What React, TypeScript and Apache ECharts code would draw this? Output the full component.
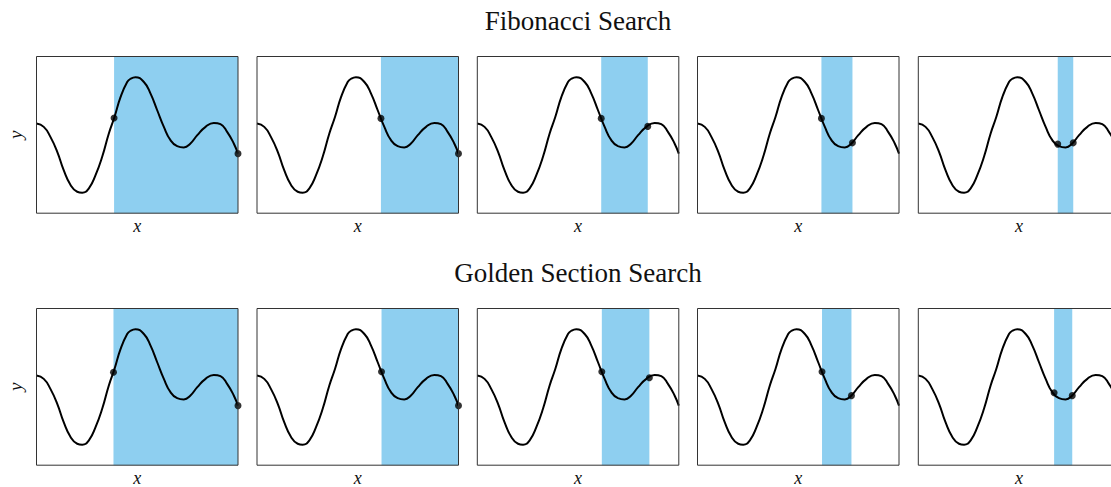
import React, { useEffect, useRef } from "react";
import * as echarts from "echarts";

// Curve (same function in every panel), normalised x 0..100, y 0..100
const curveX = [0, 3.6, 6.9, 10.3, 13.5, 16.9, 20.2, 22.7, 26.0, 29.3, 32.6, 35.9, 38.7, 41.7, 45.0, 46.7, 49.1, 53.3, 56.6, 59.9, 63.2, 66.5, 69.8, 73.1, 76.4, 79.8, 83.9, 88.0, 91.3, 94.6, 97.9, 100];
const curveY = [57.2, 55.1, 48.7, 39.2, 27.5, 18.0, 13.7, 13.1, 15.9, 24.3, 36.0, 50.9, 61.4, 74.1, 83.7, 85.8, 86.8, 83.7, 76.3, 65.7, 55.1, 46.6, 42.8, 42.0, 44.5, 49.8, 55.1, 57.6, 56.8, 51.9, 44.5, 38.0];

// Fibonacci search brackets and evaluated points
const fibLo = [38.5, 61.5, 61.5, 61.5, 69.2];
const fibHi = [100, 100, 84.6, 76.9, 76.9];
const fibLoY = [60.8, 60.5, 60.5, 60.5, 44.1];
const fibHiY = [38.0, 38.0, 55.4, 44.9, 44.9];

// Golden section search brackets and evaluated points
const goldLo = [38.2, 61.8, 61.8, 61.8, 67.4];
const goldHi = [100, 100, 85.4, 76.4, 76.4];
const goldLoY = [59.3, 59.6, 59.6, 59.6, 46.2];
const goldHiY = [38.0, 38.0, 55.8, 44.4, 44.4];

const rowTitles = ["Fibonacci Search", "Golden Section Search"];

// layout constants
const colLefts = [36.5, 257, 477.3, 697.5, 918.3];
const panelW = 201.5;
const rowTops = [56.5, 308.5];
const panelH = 156.7;
const titleTops = [7, 259];

const SHADE = "#8ECFF0";
const SERIF = "'Liberation Serif', 'DejaVu Serif', serif";

export default function App() {
  const ref = useRef<HTMLDivElement>(null);
  useEffect(() => {
    if (!ref.current) return;
    const chart = echarts.init(ref.current, undefined, { renderer: "svg" });
    const grids: any[] = [];
    const xAxes: any[] = [];
    const yAxes: any[] = [];
    const series: any[] = [];
    const curve = curveX.map((x, k) => [x, curveY[k]]);
    const rows = [
      { lo: fibLo, hi: fibHi, loY: fibLoY, hiY: fibHiY },
      { lo: goldLo, hi: goldHi, loY: goldLoY, hiY: goldHiY },
    ];
    rows.forEach((r, ri) => {
      colLefts.forEach((left, ci) => {
        const idx = ri * 5 + ci;
        grids.push({
          left,
          top: rowTops[ri],
          width: panelW,
          height: panelH,
          show: true,
          borderColor: "#333",
          borderWidth: 1,
          backgroundColor: "transparent",
          outerBoundsMode: "none",
          containLabel: false,
          z: 6,
        });
        xAxes.push({
          gridIndex: idx,
          type: "value",
          min: 0,
          max: 100,
          axisLine: { show: false },
          axisTick: { show: false },
          axisLabel: { show: false },
          splitLine: { show: false },
          name: "x",
          nameLocation: "middle",
          nameGap: 5,
          nameTextStyle: { fontFamily: SERIF, fontStyle: "italic", fontSize: 18, lineHeight: 16, color: "#111" },
        });
        yAxes.push({
          gridIndex: idx,
          type: "value",
          min: 0,
          max: 100,
          axisLine: { show: false },
          axisTick: { show: false },
          axisLabel: { show: false },
          splitLine: { show: false },
          name: ci === 0 ? "y" : "",
          nameLocation: "middle",
          nameGap: 12,
          nameTextStyle: { fontFamily: SERIF, fontStyle: "italic", fontSize: 19, color: "#111" },
        });
        series.push({
          type: "line",
          xAxisIndex: idx,
          yAxisIndex: idx,
          data: [[r.lo[ci], 0], [r.hi[ci], 0]],
          showSymbol: false,
          lineStyle: { width: 0, opacity: 0 },
          silent: true,
          z: 1,
          markArea: {
            silent: true,
            itemStyle: { color: SHADE, opacity: 1 },
            data: [[{ xAxis: r.lo[ci] }, { xAxis: r.hi[ci] }]],
          },
        });
        series.push({
          type: "line",
          xAxisIndex: idx,
          yAxisIndex: idx,
          data: curve,
          smooth: 0.5,
          showSymbol: false,
          lineStyle: { color: "#000", width: 2 },
          silent: true,
          z: 3,
        });
        series.push({
          type: "scatter",
          xAxisIndex: idx,
          yAxisIndex: idx,
          data: [[r.lo[ci], r.loY[ci]], [r.hi[ci], r.hiY[ci]]],
          symbolSize: 7,
          itemStyle: { color: "#000" },
          clip: false,
          silent: true,
          z: 4,
        });
      });
    });
    chart.setOption({
      animation: false,
      title: rowTitles.map((t, i) => ({
        text: t,
        left: 578,
        top: titleTops[i],
        textAlign: "center",
        padding: 0,
        textStyle: { fontFamily: SERIF, fontSize: 27, fontWeight: "normal", color: "#111" },
      })),
      grid: grids,
      xAxis: xAxes,
      yAxis: yAxes,
      series,
    });
    return () => chart.dispose();
  }, []);
  return (
    <div
      ref={ref}
      style={{ position: "fixed", left: 0, top: 0, width: 1111, height: 487, background: "#fff" }}
    />
  );
}
